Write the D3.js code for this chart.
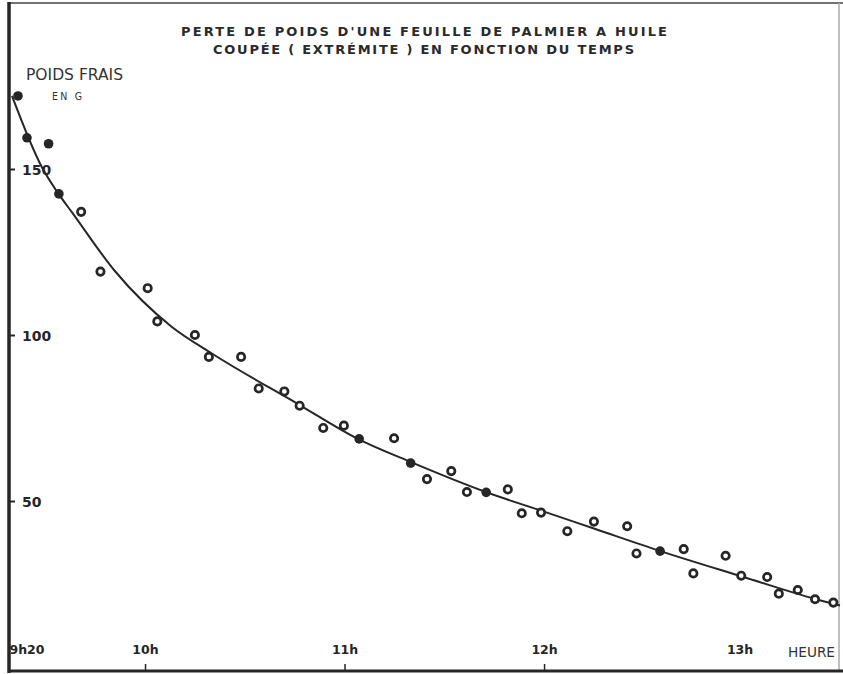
<!DOCTYPE html>
<html>
<head>
<meta charset="utf-8">
<script src="https://cdn.jsdelivr.net/npm/d3@7"></script>
<style>
  body { margin: 0; background: #fff; }
  svg { display: block; }
</style>
</head>
<body>
<div id="chart"></div>
<script>
// time in minutes after 9h20, weight in grams
var titleLines = ["PERTE DE POIDS D'UNE FEUILLE DE PALMIER A HUILE",
                  "COUPÉE ( EXTRÉMITE ) EN FONCTION DU TEMPS"];

var filledMinutes = [1.8, 4.5, 11, 14.1, 104.4, 119.9, 142.6, 194.9];
var filledWeights = [172, 159.4, 157.6, 142.5, 68.7, 61.4, 52.6, 34.9];

var openMinutes = [20.8, 26.6, 40.8, 43.7, 55, 59.2, 68.9, 74.2, 81.9, 86.5, 93.6, 99.8,
                   114.9, 124.8, 132.1, 136.8, 149.1, 153.3, 159.1, 167, 175, 185, 187.8,
                   202, 204.9, 214.6, 219.3, 227.1, 230.6, 236.3, 241.5, 247];
var openWeights = [137.1, 119.1, 114.1, 104.1, 100, 93.4, 93.4, 83.9, 83, 78.7, 72, 72.7,
                   68.9, 56.6, 59, 52.7, 53.5, 46.3, 46.5, 40.9, 43.8, 42.4, 34.2,
                   35.5, 28.2, 33.5, 27.5, 27.1, 22.1, 23.2, 20.4, 19.4];

// fitted curve drawn by hand on the original
var curveMinutes = [0, 9, 14, 18, 31, 48, 60, 86, 104, 120, 142.5, 160, 175, 195, 220, 241.5, 249];
var curveWeights = [172, 150.5, 142.5, 137, 119.2, 102.5, 94.5, 79.2, 68.7, 61.7, 52.7, 46.8, 41.7, 34.9, 27.1, 20.5, 18.5];

var yTicks = [50, 100, 150];
var xTickMinutes = [0, 40, 100, 160, 220];
var xTickLabels = ["9h20", "10h", "11h", "12h", "13h"];

var W = 843, H = 674;
var ink = "#262626";

var svg = d3.select("#chart").append("svg")
    .attr("width", W)
    .attr("height", H);

svg.append("rect").attr("width", W).attr("height", H).attr("fill", "#fff");

var x = d3.scaleLinear().domain([0, 249]).range([12, 840]);
var y = d3.scaleLinear().domain([0, 150]).range([667, 169]);

// frame
svg.append("line").attr("x1", 9).attr("x2", W).attr("y1", 3).attr("y2", 3)
    .attr("stroke", "#444").attr("stroke-width", 1.5);
svg.append("line").attr("x1", 839).attr("x2", 839).attr("y1", 3).attr("y2", 672)
    .attr("stroke", "#aaa").attr("stroke-width", 1.5);
svg.append("line").attr("x1", 9).attr("x2", W).attr("y1", 671).attr("y2", 671)
    .attr("stroke", ink).attr("stroke-width", 3);
svg.append("line").attr("x1", 9).attr("x2", 9).attr("y1", 2).attr("y2", 673)
    .attr("stroke", ink).attr("stroke-width", 3.5);

// title
svg.selectAll(".title")
    .data(titleLines)
    .enter().append("text")
    .attr("class", "title")
    .attr("x", function(d, i){ return i == 0 ? 181 : 213; })
    .attr("y", function(d, i){ return 36 + i * 18; })
    .attr("textLength", function(d, i){ return i == 0 ? 486 : 421; })
    .attr("lengthAdjust", "spacing")
    .attr("font-family", "DejaVu Sans")
    .attr("font-weight", "bold")
    .attr("font-size", 13)
    .attr("fill", "#2a2a2a")
    .text(function(d){ return d; });

// y axis label
svg.append("text")
    .attr("x", 26).attr("y", 80)
    .attr("textLength", 97).attr("lengthAdjust", "spacingAndGlyphs")
    .attr("font-family", "DejaVu Sans Condensed, DejaVu Sans")
    .attr("font-size", 15)
    .attr("fill", "#333")
    .text("POIDS FRAIS");
svg.append("text")
    .attr("x", 52).attr("y", 100)
    .attr("textLength", 30).attr("lengthAdjust", "spacing")
    .attr("font-family", "DejaVu Sans Condensed, DejaVu Sans")
    .attr("font-size", 10.5)
    .attr("fill", "#333")
    .text("EN G");

var yAxis = svg.append("g")
    .attr("transform", "translate(9,0)")
    .call(d3.axisRight(y).tickValues(yTicks).tickSize(6).tickPadding(7)
        .tickFormat(d3.format("d")));
yAxis.select(".domain").remove();
yAxis.selectAll(".tick line").attr("stroke", ink).attr("stroke-width", 2);
yAxis.selectAll(".tick text")
    .attr("font-family", "DejaVu Sans")
    .attr("font-weight", "bold")
    .attr("font-size", 14)
    .attr("fill", ink)
    .attr("dy", "0.36em");

var xAxis = svg.append("g")
    .attr("transform", "translate(0,671)")
    .call(d3.axisTop(x).tickValues(xTickMinutes).tickSize(7).tickPadding(10)
        .tickFormat(function(d, i){ return xTickLabels[i]; }));
xAxis.select(".domain").remove();
xAxis.selectAll(".tick line")
    .attr("stroke", ink).attr("stroke-width", 1.5)
    .attr("opacity", function(d){ return (d == 0 || d == 220) ? 0 : 1; });
xAxis.selectAll(".tick text")
    .attr("font-family", "DejaVu Sans")
    .attr("font-weight", "bold")
    .attr("font-size", 12.5)
    .attr("fill", ink)
    .attr("text-anchor", function(d){ return d == 0 ? "start" : "middle"; })
    .attr("dx", function(d){ return d == 0 ? -3 : (d == 220 ? -4 : 0); });

svg.append("text")
    .attr("x", 788).attr("y", 657)
    .attr("textLength", 47).attr("lengthAdjust", "spacingAndGlyphs")
    .attr("font-family", "DejaVu Sans Condensed, DejaVu Sans")
    .attr("font-size", 14)
    .attr("fill", "#333")
    .text("HEURE");

// curve
var line = d3.line()
    .x(function(d){ return x(d[0]); })
    .y(function(d){ return y(d[1]); })
    .curve(d3.curveMonotoneX);

svg.append("path")
    .datum(d3.zip(curveMinutes, curveWeights))
    .attr("d", line)
    .attr("fill", "none")
    .attr("stroke", ink)
    .attr("stroke-width", 2);

// points
svg.selectAll(".open")
    .data(d3.zip(openMinutes, openWeights))
    .enter().append("circle")
    .attr("class", "open")
    .attr("cx", function(d){ return x(d[0]); })
    .attr("cy", function(d){ return y(d[1]); })
    .attr("r", 3.7)
    .attr("fill", "#fff")
    .attr("stroke", ink)
    .attr("stroke-width", 2.7);

svg.selectAll(".filled")
    .data(d3.zip(filledMinutes, filledWeights))
    .enter().append("circle")
    .attr("class", "filled")
    .attr("cx", function(d){ return x(d[0]); })
    .attr("cy", function(d){ return y(d[1]); })
    .attr("r", 4.8)
    .attr("fill", ink);
</script>
</body>
</html>
